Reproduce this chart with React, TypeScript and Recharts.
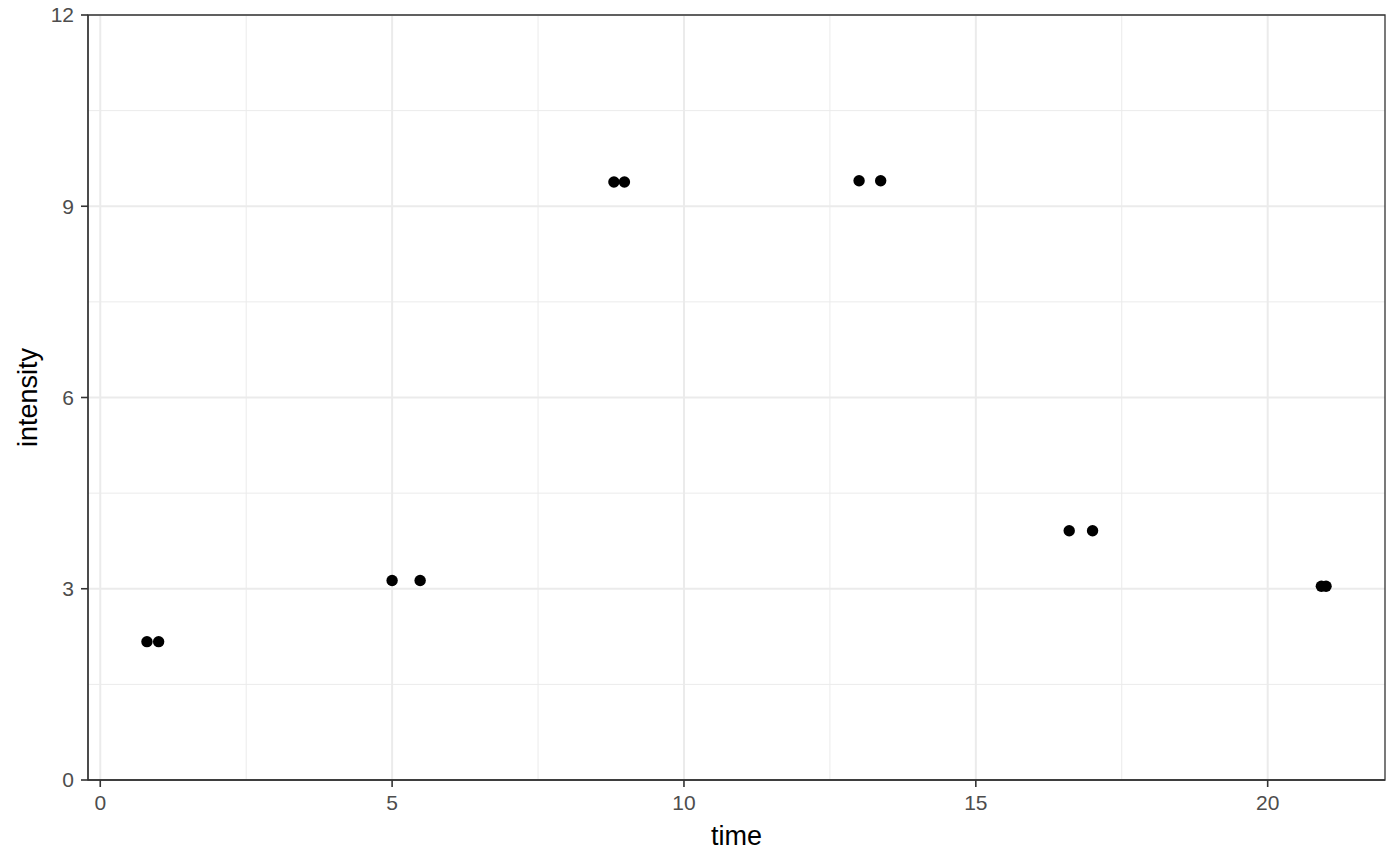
import React from 'react';
import { ScatterChart, Scatter, XAxis, YAxis, CartesianGrid, ReferenceArea } from 'recharts';

const time = [0.8, 1.0, 5.0, 5.48, 8.8, 8.98, 13.0, 13.37, 16.6, 17.0, 20.92, 21.0];
const intensity = [2.17, 2.17, 3.13, 3.13, 9.38, 9.38, 9.4, 9.4, 3.91, 3.91, 3.04, 3.04];

const xTicks = [0, 5, 10, 15, 20];
const yTicks = [0, 3, 6, 9, 12];
const xMinor = [2.5, 7.5, 12.5, 17.5];
const yMinor = [1.5, 4.5, 7.5, 10.5];
const xDomain = [-0.21, 22.01];
const yDomain = [0, 12];

const data = time.map((t, i) => ({ time: t, intensity: intensity[i] }));

const FONT = '"Liberation Sans", Arial, Helvetica, sans-serif';

const Dot = (props: any) => {
  const { cx, cy } = props;
  if (cx == null || cy == null) return null;
  return <circle cx={cx} cy={cy} r={5.7} fill="#000000" />;
};

export default function App() {
  return (
    <div style={{ position: 'absolute', left: 0, top: 0, width: 1400, height: 865, background: '#ffffff' }}>
      <ScatterChart width={1400} height={865} margin={{ top: 15, right: 15, bottom: 0, left: 0 }}>
        <CartesianGrid
          stroke="#EBEBEB"
          strokeWidth={1}
          horizontalValues={yMinor}
          verticalValues={xMinor}
        />
        <CartesianGrid
          stroke="#EBEBEB"
          strokeWidth={2}
          horizontalValues={yTicks}
          verticalValues={xTicks}
        />
        <XAxis
          type="number"
          dataKey="time"
          domain={xDomain}
          ticks={xTicks}
          allowDataOverflow
          height={85}
          tickSize={7}
          tickMargin={8}
          axisLine={{ stroke: '#333333', strokeWidth: 1.3 }}
          tickLine={{ stroke: '#333333', strokeWidth: 1.6 }}
          tick={{ fill: '#4D4D4D', fontSize: 21, fontFamily: FONT }}
          label={(p: any) => {
            const vb = p.viewBox || {};
            return (
              <text
                x={vb.x + vb.width / 2}
                y={845}
                textAnchor="middle"
                fill="#000000"
                fontSize={27}
                fontFamily={FONT}
              >
                time
              </text>
            );
          }}
        />
        <YAxis
          type="number"
          dataKey="intensity"
          domain={yDomain}
          ticks={yTicks}
          allowDataOverflow
          width={88}
          tickSize={7}
          tickMargin={7}
          axisLine={{ stroke: '#333333', strokeWidth: 1.3 }}
          tickLine={{ stroke: '#333333', strokeWidth: 1.6 }}
          tick={{ fill: '#4D4D4D', fontSize: 21, fontFamily: FONT }}
          label={(p: any) => {
            const vb = p.viewBox || {};
            const cy = vb.y + vb.height / 2;
            return (
              <text
                x={37}
                y={cy}
                transform={`rotate(-90, 37, ${cy})`}
                textAnchor="middle"
                fill="#000000"
                fontSize={27}
                fontFamily={FONT}
              >
                intensity
              </text>
            );
          }}
        />
        <ReferenceArea
          x1={xDomain[0]}
          x2={xDomain[1]}
          y1={yDomain[0]}
          y2={yDomain[1]}
          fill="none"
          fillOpacity={0}
          stroke="#333333"
          strokeWidth={1.3}
          ifOverflow="visible"
        />
        <Scatter data={data} shape={Dot} isAnimationActive={false} />
      </ScatterChart>
    </div>
  );
}
